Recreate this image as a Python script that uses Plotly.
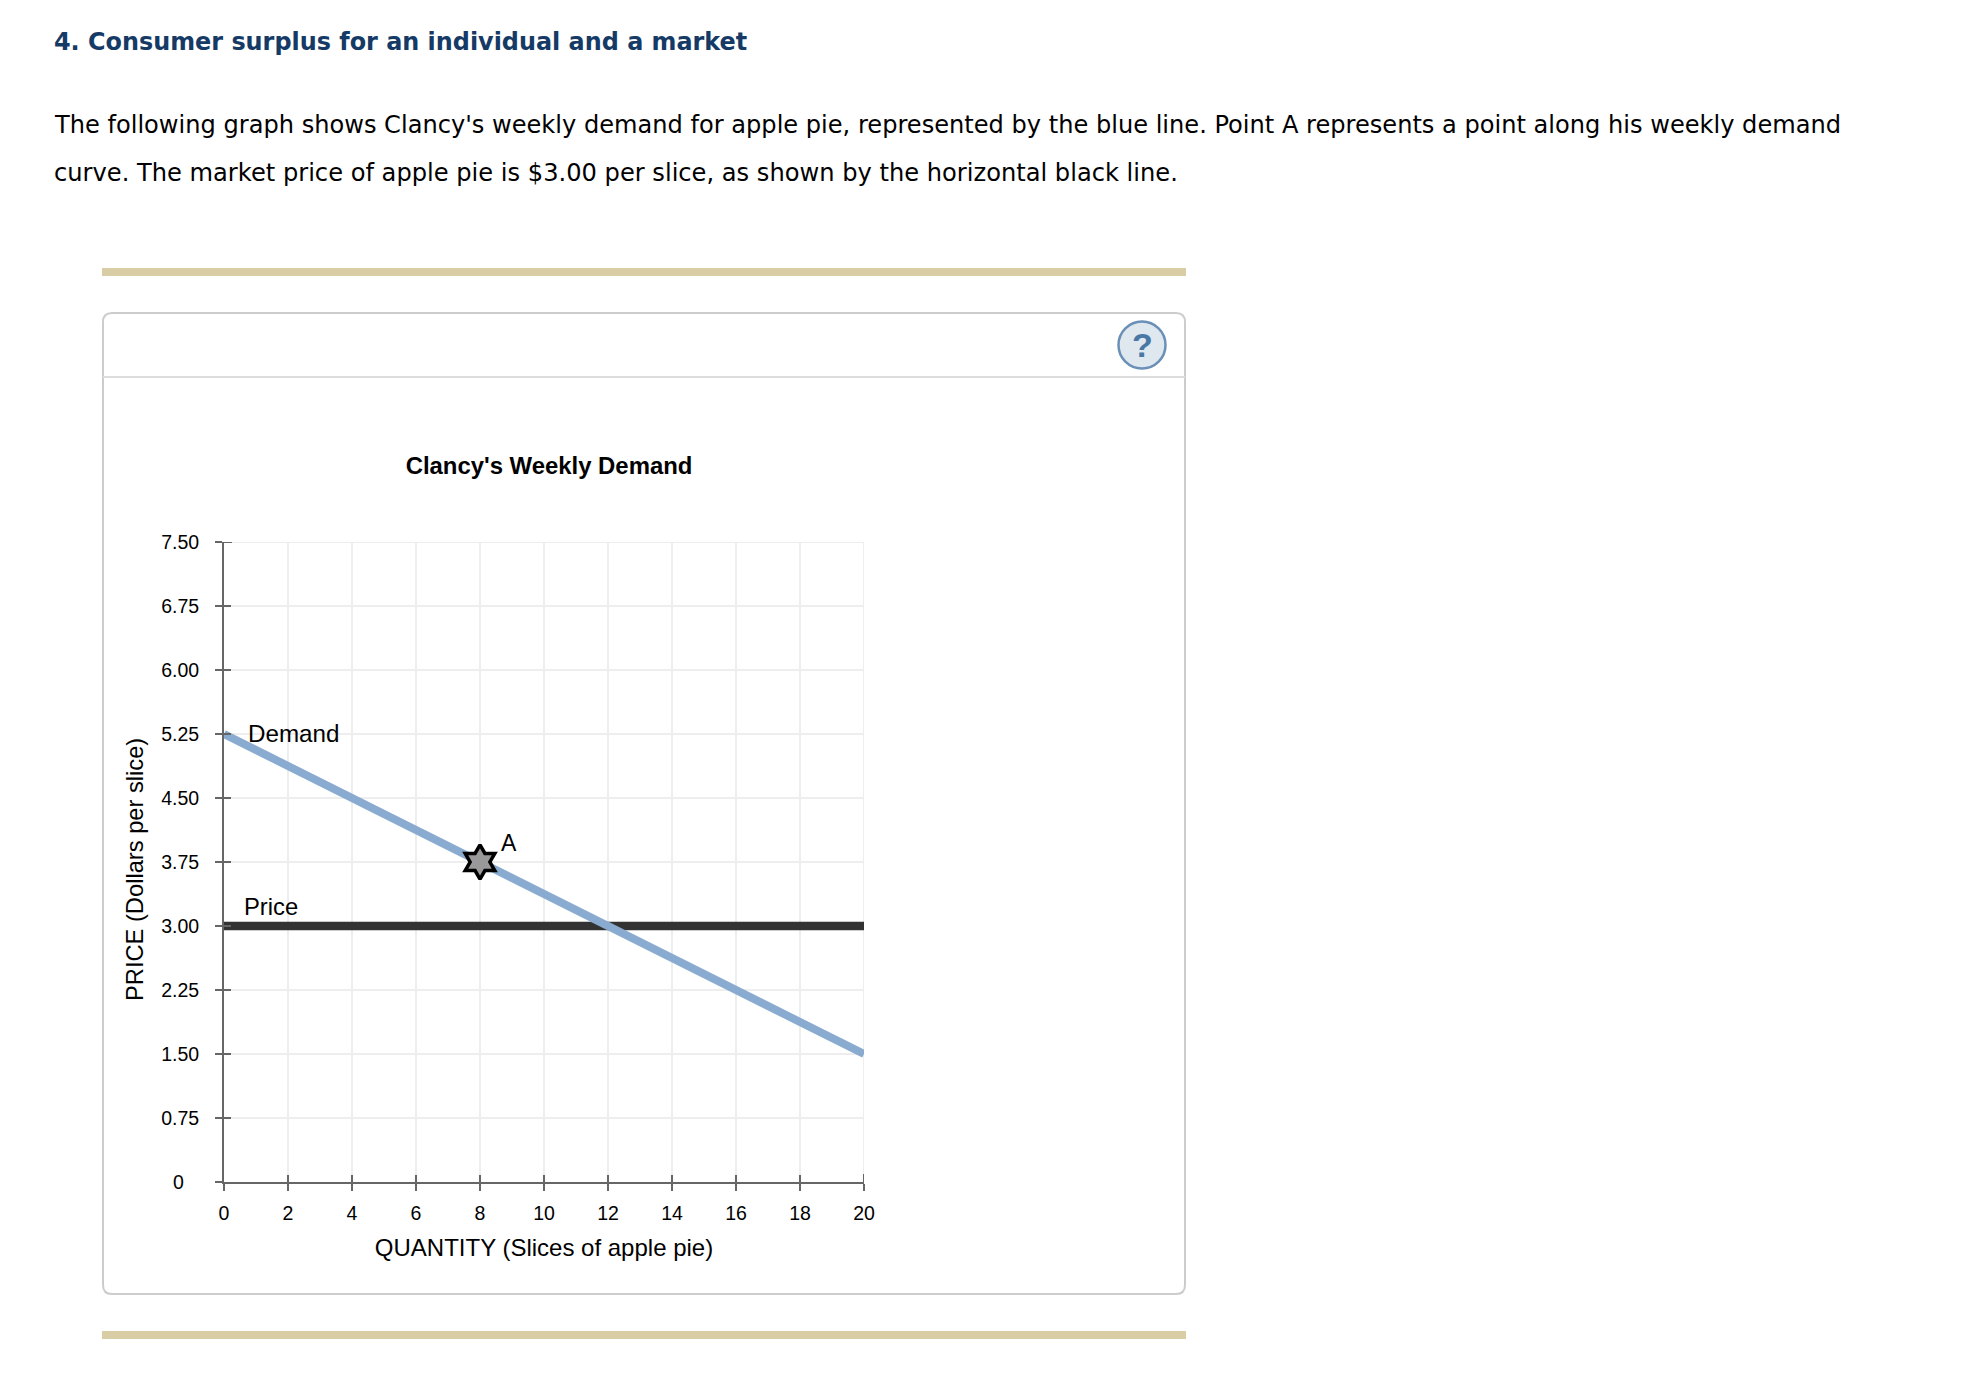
import plotly.graph_objects as go

W, H = 1974, 1382

# ---- data ----
demand_qty = [0, 20]
demand_price = [5.25, 1.5]
price_qty = [0, 20]
price_level = [3.0, 3.0]
point_qty = [8]
point_price = [3.75]
point_label = ["A"]
x_ticks = [0, 2, 4, 6, 8, 10, 12, 14, 16, 18, 20]
y_ticks = [0, 0.75, 1.5, 2.25, 3.0, 3.75, 4.5, 5.25, 6.0, 6.75, 7.5]
y_tick_labels = ["0\u2002\u00a0", "0.75", "1.50", "2.25", "3.00", "3.75", "4.50", "5.25", "6.00", "6.75", "7.50"]

heading = "4. Consumer surplus for an individual and a market"
body_1 = "The following graph shows Clancy's weekly demand for apple pie, represented by the blue line. Point A represents a point along his weekly demand"
body_2 = "curve. The market price of apple pie is $3.00 per slice, as shown by the horizontal black line."
chart_title = "Clancy's Weekly Demand"
x_title = "QUANTITY (Slices of apple pie)"
y_title = "PRICE (Dollars per slice)"

ARIAL = "Liberation Sans, Arial, sans-serif"
VERD = "DejaVu Sans, Verdana, sans-serif"
GRID = "#eeeeee"
AXIS = "#666666"


def px(x):
    return x / W


def py(y):
    return 1 - y / H


fig = go.Figure()
fig.add_trace(go.Scatter(x=price_qty, y=price_level, mode="lines", name="Price",
                         line=dict(color="#333333", width=8.5), showlegend=False, hoverinfo="skip"))
fig.add_trace(go.Scatter(x=demand_qty, y=demand_price, mode="lines", name="Demand",
                         line=dict(color="#8aabd0", width=8), showlegend=False, hoverinfo="skip"))
fig.add_trace(go.Scatter(x=point_qty, y=point_price, mode="markers", name="A", xaxis="x2", yaxis="y2",
                         marker=dict(symbol="hexagram", size=26, color="#999999",
                                     line=dict(color="#000000", width=3.5)),
                         showlegend=False, hoverinfo="skip"))

dom_x = [px(224), px(864)]
dom_y = [py(1182), py(542)]
axis_common = dict(linecolor=AXIS, linewidth=2, zeroline=False,
                   ticklen=7, tickwidth=2, tickcolor=AXIS, fixedrange=True)

x_range = [0, 20]
y_range = [0, 7.5]


def shape_rect(x0, y0, x1, y1, **kw):
    return dict(type="rect", xref="paper", yref="paper", x0=px(x0), x1=px(x1), y0=py(y0), y1=py(y1), layer="below", **kw)


def rounded_panel(l, t, r, b, rad):
    pts = [(l + rad, t), (r - rad, t), (r, t + rad), (r, b - rad), (r - rad, b), (l + rad, b), (l, b - rad), (l, t + rad)]
    f = lambda p: f"{px(p[0])} {py(p[1])}"
    return (f"M {f(pts[0])} L {f(pts[1])} Q {px(r)} {py(t)} {f(pts[2])} L {f(pts[3])} "
            f"Q {px(r)} {py(b)} {f(pts[4])} L {f(pts[5])} Q {px(l)} {py(b)} {f(pts[6])} L {f(pts[7])} "
            f"Q {px(l)} {py(t)} {f(pts[0])} Z")


shapes = [
    shape_rect(102, 268, 1186, 276, fillcolor="#d8cda5", line_width=0),
    shape_rect(102, 1331, 1186, 1339, fillcolor="#d8cda5", line_width=0),
    dict(type="path", xref="paper", yref="paper", path=rounded_panel(103, 313, 1185, 1294, 9),
         line=dict(color="#cccccc", width=2), fillcolor="#ffffff", layer="below"),
    dict(type="line", xref="paper", yref="paper", x0=px(103), x1=px(1185), y0=py(377), y1=py(377),
         line=dict(color="#dddddd", width=2), layer="below"),
    dict(type="circle", xref="paper", yref="paper", x0=px(1118.5), x1=px(1165.5), y0=py(321.5), y1=py(368.5),
         line=dict(color="#6a90b8", width=2.5), fillcolor="#dfe7ef", layer="above"),
    # end gridlines that Plotly leaves out at the top and right of the range
    dict(type="line", xref="x", yref="y", x0=x_range[1], x1=x_range[1], y0=y_range[0], y1=y_range[1],
         line=dict(color=GRID, width=2), layer="below"),
    dict(type="line", xref="x", yref="y", x0=x_range[0], x1=x_range[1], y0=y_range[1], y1=y_range[1],
         line=dict(color=GRID, width=2), layer="below"),
    # inner half of the end ticks
    dict(type="line", xref="x", yref="y", xsizemode="pixel", xanchor=x_range[0], x0=0, x1=8,
         y0=y_range[1], y1=y_range[1], line=dict(color=AXIS, width=2), layer="above"),
    dict(type="line", xref="x", yref="y", ysizemode="pixel", yanchor=y_range[0], y0=0, y1=8,
         x0=x_range[1], x1=x_range[1], line=dict(color=AXIS, width=2), layer="above"),
]


def label(text, x, y, size, color="#000000", family=ARIAL, xanchor="left", bold=False, angle=0):
    return dict(text=f"<b>{text}</b>" if bold else text, x=px(x), y=py(y), xref="paper", yref="paper",
                xanchor=xanchor, yanchor="middle", showarrow=False, align="left", textangle=angle,
                font=dict(family=family, size=size, color=color))


annotations = [
    label(heading, 52, 42, 23.9, color="#153a66", family=VERD, bold=True),
    label(body_1, 52, 125, 24.1, family=VERD),
    label(body_2, 52, 173, 24.15, family=VERD),
    label("?", 1142, 345, 34, color="#4a78a6", xanchor="center", bold=True),
    label("Demand", 246, 734, 24.2),
    label("Price", 241.5, 906, 23.8),
    label(point_label[0], 499, 843, 23),
    label(y_title, 135, 870, 23.7, xanchor="center", angle=-90),
]

fig.update_layout(
    width=W, height=H, autosize=False,
    margin=dict(l=0, r=0, t=0, b=0),
    paper_bgcolor="#ffffff", plot_bgcolor="rgba(0,0,0,0)",
    showlegend=False,
    title=dict(text=f"<b>{chart_title}</b>", x=px(549), y=py(466), xref="paper", yref="paper",
               xanchor="center", yanchor="middle", font=dict(family=ARIAL, size=23.9, color="#000000")),
    xaxis=dict(domain=dom_x, range=x_range, tickvals=x_ticks, ticktext=[str(v) for v in x_ticks],
               showline=True, ticks="outside", showgrid=True, gridcolor=GRID, gridwidth=2, anchor="y",
               tickfont=dict(family=ARIAL, size=19.5, color="#000000"), ticklabelstandoff=6,
               title=dict(text=x_title, standoff=16, font=dict(family=ARIAL, size=24, color="#000000")),
               automargin=False, **axis_common),
    yaxis=dict(domain=dom_y, range=y_range, tickvals=y_ticks, ticktext=y_tick_labels,
               showline=True, ticks="outside", showgrid=True, gridcolor=GRID, gridwidth=2, anchor="x",
               tickfont=dict(family=ARIAL, size=19.5, color="#000000"), ticklabelstandoff=12,
               automargin=False, **axis_common),
    xaxis2=dict(domain=dom_x, range=x_range, overlaying="x", anchor="y2", tickvals=x_ticks, showticklabels=False,
                showline=False, ticks="inside", showgrid=False, **axis_common),
    yaxis2=dict(domain=dom_y, range=y_range, overlaying="y", anchor="x2", tickvals=y_ticks, showticklabels=False,
                showline=False, ticks="inside", showgrid=False, **axis_common),
    shapes=shapes,
    annotations=annotations,
)

fig.write_html("out.html", config=dict(displayModeBar=False, responsive=False),
               post_script="document.body.style.margin='0';document.documentElement.style.overflow='hidden';")
